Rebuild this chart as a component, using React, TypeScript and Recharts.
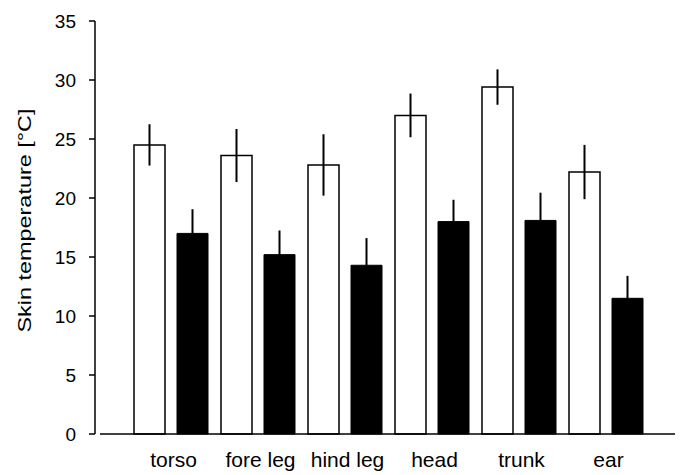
import { BarChart, Bar, XAxis, YAxis, ErrorBar } from 'recharts';

const parts = ['torso', 'fore leg', 'hind leg', 'head', 'trunk', 'ear'];
const whiteMean = [24.5, 23.6, 22.8, 27.0, 29.4, 22.2];
const whiteSd = [1.75, 2.25, 2.6, 1.85, 1.5, 2.3];
const blackMean = [17.0, 15.2, 14.3, 18.0, 18.1, 11.5];
const blackSd = [2.05, 2.05, 2.3, 1.85, 2.35, 1.9];
const yTicks = [0, 5, 10, 15, 20, 25, 30, 35];

const data = parts.map((part, i) => ({
  part,
  white: whiteMean[i],
  whiteErr: whiteSd[i],
  black: blackMean[i],
  blackErr: blackSd[i],
}));

const FONT = '"Liberation Sans", Arial, sans-serif';

function YTitle(props: any) {
  const vb = props.viewBox || {};
  const cx = 24;
  const cy = (vb.y ?? 21) + (vb.height ?? 413) / 2 - 7;
  return (
    <text
      x={cx}
      y={cy}
      transform={`rotate(-90, ${cx}, ${cy})`}
      textAnchor="middle"
      dominantBaseline="central"
      fontFamily={FONT}
      fontSize={19}
      fill="#000"
      textLength={224}
      lengthAdjust="spacingAndGlyphs"
    >
      Skin temperature [°C]
    </text>
  );
}

export default function App() {
  return (
    <div style={{ position: 'absolute', left: 0, top: 0, background: '#fff' }}>
      <BarChart
        width={681}
        height={475}
        data={data}
        margin={{ top: 21, right: 6, bottom: 0, left: 0 }}
        barSize={31}
        barGap={12}
      >
        <XAxis
          dataKey="part"
          height={41}
          padding={{ left: 27, right: 26 }}
          axisLine={{ stroke: '#000', strokeWidth: 1.5 }}
          tickLine={false}
          tickSize={0}
          tickMargin={18}
          tick={{ fill: '#000', fontSize: 21, fontFamily: FONT, dx: 3 }}
          interval={0}
        />
        <YAxis
          yAxisId="gap"
          width={5}
          domain={[0, 35]}
          ticks={yTicks}
          axisLine={false}
          tickLine={false}
          tick={false}
        />
        <YAxis
          yAxisId="main"
          width={95}
          domain={[0, 35]}
          ticks={yTicks}
          interval={0}
          axisLine={{ stroke: '#000', strokeWidth: 1.5 }}
          tickLine={{ stroke: '#000', strokeWidth: 1.5 }}
          tickSize={6}
          tickMargin={13}
          tick={{ fill: '#000', fontSize: 19, fontFamily: FONT }}
          label={<YTitle />}
        />
        <Bar
          yAxisId="main"
          dataKey="white"
          fill="#fff"
          stroke="#000"
          strokeWidth={1.5}
          isAnimationActive={false}
        >
          <ErrorBar dataKey="whiteErr" width={0} stroke="#000" strokeWidth={2} direction="y" />
        </Bar>
        <Bar
          yAxisId="main"
          dataKey="black"
          fill="#000"
          stroke="#000"
          strokeWidth={1}
          isAnimationActive={false}
        >
          <ErrorBar dataKey="blackErr" width={0} stroke="#000" strokeWidth={2} direction="y" />
        </Bar>
      </BarChart>
    </div>
  );
}
